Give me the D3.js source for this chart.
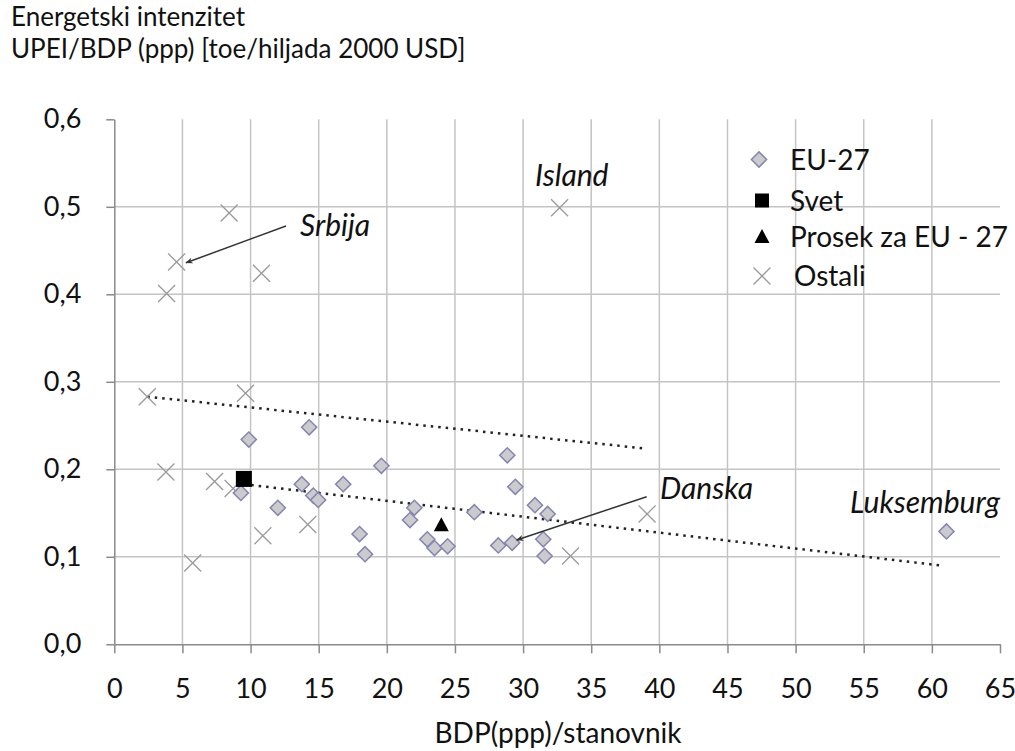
<!DOCTYPE html>
<html>
<head>
<meta charset="utf-8">
<script src="https://cdn.jsdelivr.net/npm/d3@7"></script>
<style>
  body { margin: 0; background: #fff; }
  text { font-family: Lato, "Open Sans", sans-serif; fill: #111; }
  .grid line { stroke: #c4c4c4; stroke-width: 1.5; }
  .axis path, .axis line { stroke: #8a8a8a; stroke-width: 1.5; }
  .axis text { font-size: 27px; fill: #111; }
  .lbl { font-style: italic; font-size: 30px; }
</style>
</head>
<body>
<script>
// EU-27 countries [BDP(ppp)/stanovnik, UPEI/BDP]
var eu27 = [
    [14.3, 0.248], [9.87, 0.234], [19.6, 0.204], [9.29, 0.173], [13.76, 0.183],
    [14.6, 0.170], [14.96, 0.165], [16.8, 0.183], [12.0, 0.156], [18.0, 0.126],
    [18.4, 0.103], [28.84, 0.216], [29.43, 0.180], [22.02, 0.156], [21.7, 0.142],
    [26.42, 0.151], [30.87, 0.159], [31.8, 0.149], [22.97, 0.120], [23.5, 0.110],
    [24.46, 0.112], [28.18, 0.113], [29.2, 0.116], [31.48, 0.120], [31.58, 0.101],
    [61.07, 0.129]
];
var svet = [[9.51, 0.189]];
var prosek = [[24.0, 0.136]];
var ostali = [
    [8.43, 0.493], [4.57, 0.437], [10.8, 0.424], [3.84, 0.401], [2.42, 0.283],
    [9.63, 0.287], [3.79, 0.197], [7.36, 0.186], [8.72, 0.178], [14.2, 0.137],
    [10.9, 0.124], [5.75, 0.093], [33.48, 0.101], [39.1, 0.149], [32.68, 0.499]
];
// dotted trend lines
var trendUpper = [[2.42, 0.283], [38.8, 0.224]];
var trendLower = [[9.5, 0.183], [60.7, 0.090]];

var xTicks = [0, 5, 10, 15, 20, 25, 30, 35, 40, 45, 50, 55, 60, 65];
var yTicks = [0, 0.1, 0.2, 0.3, 0.4, 0.5, 0.6];
var xGrid = [5, 10, 15, 20, 25, 30, 35, 40, 45, 50, 55, 60];
var yGrid = [0.1, 0.2, 0.3, 0.4, 0.5];

var legendItems = ["EU-27", "Svet", "Prosek za EU - 27", "Ostali"];

// annotations: label, text position, arrow from -> to (data coords)
var notes = [
    {text: "Srbija", x: 13.63, y: 0.4665, arrow: [[12.6, 0.478], [5.26, 0.436]]},
    {text: "Island", x: 30.88, y: 0.5243},
    {text: "Danska", x: 40.05, y: 0.166, arrow: [[39.07, 0.1687], [29.53, 0.1192]]},
    {text: "Luksemburg", x: 54.0, y: 0.150}
];

var margin = {top: 119.3, left: 114.3};
var width = 885.7;
var height = 525;

var svg = d3.select("body").append("svg")
    .attr("width", 1015)
    .attr("height", 751);

var g = svg.append("g")
    .attr("transform", "translate(" + margin.left + "," + margin.top + ")");

var x = d3.scaleLinear().domain([0, 65]).range([0, width]);
var y = d3.scaleLinear().domain([0, 0.6]).range([height, 0]);

var comma = d3.formatLocale({decimal: ",", thousands: ".", grouping: [3], currency: ["", ""]});

// grid
g.append("g").attr("class", "grid")
    .selectAll("line").data(xGrid).enter().append("line")
    .attr("x1", function(d) { return x(d); })
    .attr("x2", function(d) { return x(d); })
    .attr("y1", 0).attr("y2", height);
g.append("g").attr("class", "grid")
    .selectAll("line").data(yGrid).enter().append("line")
    .attr("x1", 0).attr("x2", width)
    .attr("y1", function(d) { return y(d); })
    .attr("y2", function(d) { return y(d); });

// axes
var xAxis = g.append("g")
    .attr("class", "axis")
    .attr("transform", "translate(0," + height + ")")
    .call(d3.axisBottom(x).tickValues(xTicks).tickSize(9).tickSizeOuter(0));
xAxis.selectAll("text").attr("y", 53.7).attr("dy", 0);

g.append("g")
    .attr("class", "axis")
    .call(d3.axisLeft(y).tickValues(yTicks).tickSize(8).tickSizeOuter(0).tickPadding(25)
        .tickFormat(comma.format(".1f")));

// trend lines
var line = d3.line()
    .x(function(d) { return x(d[0]); })
    .y(function(d) { return y(d[1]); });

[trendUpper, trendLower].forEach(function(t) {
    g.append("path")
        .datum(t)
        .attr("d", line)
        .attr("fill", "none")
        .attr("stroke", "#222")
        .attr("stroke-width", 2.5)
        .attr("stroke-dasharray", "2.5,5");
});

// marker shapes
var diamond = d3.symbol(d3.symbolSquare, 115)();
var square = "M-8,-8H8V8H-8Z";
var triangle = "M0,-8L7.5,6L-7.5,6Z";
var cross = "M-8.5,-8.5L8.5,8.5M-8.5,8.5L8.5,-8.5";

function drawCross(sel) {
    sel.attr("d", cross)
        .attr("fill", "none")
        .attr("stroke", "#9a9a9a")
        .attr("stroke-width", 1.3);
}
function drawDiamond(sel) {
    sel.attr("d", diamond)
        .attr("fill", "#cbcbcb")
        .attr("stroke", "#8585b5")
        .attr("stroke-width", 1.5);
}

g.selectAll(".ostali").data(ostali).enter().append("path")
    .attr("class", "ostali")
    .attr("transform", function(d) { return "translate(" + x(d[0]) + "," + y(d[1]) + ")"; })
    .call(drawCross);

g.selectAll(".eu").data(eu27).enter().append("path")
    .attr("class", "eu")
    .attr("transform", function(d) { return "translate(" + x(d[0]) + "," + y(d[1]) + ") rotate(45)"; })
    .call(drawDiamond);

g.selectAll(".svet").data(svet).enter().append("path")
    .attr("class", "svet")
    .attr("transform", function(d) { return "translate(" + x(d[0]) + "," + y(d[1]) + ")"; })
    .attr("d", square)
    .attr("fill", "#000");

g.selectAll(".prosek").data(prosek).enter().append("path")
    .attr("class", "prosek")
    .attr("transform", function(d) { return "translate(" + x(d[0]) + "," + y(d[1]) + ")"; })
    .attr("d", triangle)
    .attr("fill", "#000");

// annotations
svg.append("defs").append("marker")
    .attr("id", "arr")
    .attr("viewBox", "0 -5 10 10")
    .attr("refX", 9).attr("refY", 0)
    .attr("markerWidth", 5).attr("markerHeight", 5)
    .attr("orient", "auto")
    .append("path")
    .attr("d", "M0,-4L10,0L0,4L3,0Z")
    .attr("fill", "#333");

notes.forEach(function(n) {
    if (n.arrow) {
        g.append("path")
            .datum(n.arrow)
            .attr("d", line)
            .attr("stroke", "#333")
            .attr("stroke-width", 1.5)
            .attr("fill", "none")
            .attr("marker-end", "url(#arr)");
    }
    g.append("text")
        .attr("class", "lbl")
        .attr("x", x(n.x))
        .attr("y", y(n.y))
        .text(n.text);
});

// legend
var legend = svg.append("g").attr("class", "legend");
var legRowY = [159.5, 200.5, 237, 276];
var legShape = [
    function(s) { s.attr("d", diamond).attr("transform", "translate(759," + legRowY[0] + ") rotate(45)").call(drawDiamond); },
    function(s) { s.attr("d", "M-7,-7H7V7H-7Z").attr("fill", "#000").attr("transform", "translate(762," + legRowY[1] + ")"); },
    function(s) { s.attr("d", triangle).attr("fill", "#000").attr("transform", "translate(762," + legRowY[2] + ")"); },
    function(s) { s.attr("transform", "translate(762," + legRowY[3] + ")").call(drawCross); }
];
legendItems.forEach(function(d, i) {
    legend.append("path").call(legShape[i]);
    legend.append("text")
        .attr("x", i == 3 ? 794 : 790)
        .attr("y", legRowY[i] + 10)
        .style("font-size", "28px")
        .text(d);
});

// titles
svg.append("text")
    .attr("x", 11).attr("y", 26)
    .style("font-size", "26px")
    .text("Energetski intenzitet");
svg.append("text")
    .attr("x", 11).attr("y", 57.5)
    .style("font-size", "26px")
    .text("UPEI/BDP (ppp) [toe/hiljada 2000 USD]");

svg.append("text")
    .attr("x", 558).attr("y", 743)
    .attr("text-anchor", "middle")
    .style("font-size", "28px")
    .text("BDP(ppp)/stanovnik");
</script>
</body>
</html>
